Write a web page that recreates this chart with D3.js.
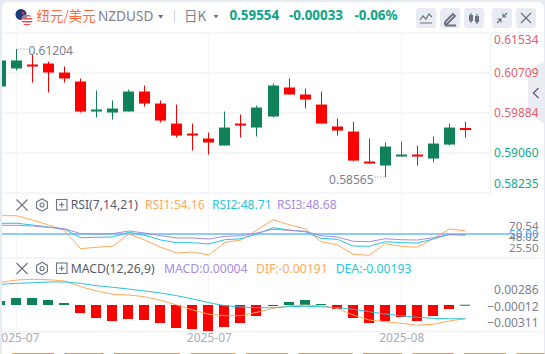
<!DOCTYPE html>
<html>
<head>
<meta charset="utf-8">
<script src="https://cdn.jsdelivr.net/npm/d3@7"></script>
<style>
    body { margin: 0; background: #e6ebf3; }
    svg { display: block; }
    text { font-family: "Noto Sans", "Noto Sans CJK SC", sans-serif; }
</style>
</head>
<body>
<div id="chart"></div>
<script>
// candle values, one entry per day
const opens = [0.60431, 0.60802, 0.60884, 0.60905, 0.60719, 0.60534, 0.59915, 0.59894, 0.59915, 0.60327,
    0.6008, 0.59667, 0.59461, 0.59358, 0.59214, 0.59667, 0.59585, 0.59812, 0.6041, 0.60266,
    0.60059, 0.59606, 0.59502, 0.58884, 0.58801, 0.58987, 0.59028, 0.58946, 0.59234, 0.59575];
const highs = [0.60967, 0.61204, 0.61091, 0.60946, 0.60843, 0.60596, 0.60348, 0.60142, 0.60369, 0.60451,
    0.60142, 0.60059, 0.59667, 0.59482, 0.59915, 0.59853, 0.60039, 0.60492, 0.60596, 0.60389,
    0.60327, 0.59771, 0.59709, 0.59358, 0.59276, 0.59296, 0.59214, 0.59399, 0.59667, 0.59709];
const lows = [0.60431, 0.60761, 0.60513, 0.60307, 0.60513, 0.59894, 0.59791, 0.5975, 0.59915, 0.60018,
    0.59688, 0.59379, 0.59111, 0.59028, 0.59214, 0.59379, 0.59399, 0.59791, 0.60266, 0.59977,
    0.59667, 0.5942, 0.58884, 0.58842, 0.58565, 0.58987, 0.58801, 0.58863, 0.59214, 0.59379];
const closes = [0.60967, 0.60967, 0.60864, 0.60719, 0.60596, 0.59915, 0.59956, 0.59977, 0.60327, 0.6008,
    0.59729, 0.5942, 0.59441, 0.59276, 0.59585, 0.59647, 0.59997, 0.60451, 0.60266, 0.60162,
    0.59667, 0.59523, 0.58904, 0.58863, 0.59193, 0.59028, 0.59007, 0.59255, 0.59585, 0.59554];

const rsi1 = [74.4, 74.4, 68.7, 62.0, 54.4, 30.4, 32.3, 33.6, 50.0, 42.0,
    32.3, 24.7, 26.0, 22.0, 38.9, 42.0, 55.3, 69.1, 62.4, 57.1,
    39.7, 35.7, 22.9, 21.6, 37.1, 33.6, 32.3, 43.7, 56.7, 54.16];
const rsi2 = [64.3, 64.3, 62.0, 59.3, 56.3, 45.1, 45.6, 46.0, 52.3, 48.3,
    42.0, 38.4, 38.4, 36.7, 42.4, 43.7, 50.0, 58.4, 55.3, 53.1,
    44.3, 42.9, 34.0, 33.6, 39.7, 38.4, 38.0, 43.3, 49.6, 48.71];
const rsi3 = [61.6, 61.6, 60.7, 58.9, 57.1, 50.4, 50.0, 50.4, 54.0, 51.3,
    47.7, 44.7, 44.7, 43.3, 46.9, 47.7, 51.3, 56.3, 54.9, 53.6,
    47.7, 46.0, 40.3, 39.7, 43.7, 42.4, 42.0, 45.1, 49.1, 48.68];

const macdHist = [0.00056, 0.00098, 0.00098, 0.0007, 0.00028, -0.00112, -0.00182, -0.00224, -0.00196, -0.0021,
    -0.00252, -0.00322, -0.00336, -0.00364, -0.00308, -0.00252, -0.00154, -0.00014, 0.00042, 0.0007,
    0.00014, -0.00056, -0.00182, -0.00252, -0.00224, -0.00168, -0.00224, -0.00154, -0.00056, 0.00004];
const dif = [0.00318, 0.0035, 0.0036, 0.00354, 0.00336, 0.00256, 0.00196, 0.0015, 0.0014, 0.00116,
    0.00066, 0, -0.0007, -0.0013, -0.0015, -0.0015, -0.00102, -0.00046, -0.0001, 0,
    -0.00014, -0.00046, -0.0014, -0.0021, -0.00234, -0.00256, -0.00284, -0.0027, -0.00224, -0.00191];
const dea = [0.0029, 0.00304, 0.00312, 0.00322, 0.00322, 0.00304, 0.0027, 0.00248, 0.00224, 0.00196,
    0.00168, 0.0013, 0.00084, 0.00032, -0.0001, -0.00028, -0.00038, -0.00038, -0.00024, -0.00018,
    -0.00024, -0.00038, -0.0006, -0.00094, -0.00126, -0.0015, -0.00172, -0.00186, -0.00193, -0.00193];

// tick labels
const priceTicks = [0.61534, 0.60709, 0.59884, 0.5906, 0.58235];
const rsiTicks = [70.54, 48.02, 25.5];
const macdTicks = [0.00286, -0.00012, -0.00311];
const dateTicks = ["2025-07", "2025-07", "2025-08"];
const dateTickIndex = [1, 13, 25];
const footerWidths = [42, 39, 66, 45, 42, 54, 39, 41, 42, 28];

const width = 545, height = 354;
const red = "#ff0000", green = "#0f8259";
const orange = "#ffa95c", cyan = "#2bc4dc", purple = "#a98be4";
const iconColor = "#6b7283", textGrey = "#7d8190";

const svg = d3.select("#chart")
    .append("svg")
    .attr("width", width)
    .attr("height", height);

// white card on the grey page
svg.append("rect")
    .attr("x", 2).attr("y", 2)
    .attr("width", 542).attr("height", 360)
    .attr("rx", 6)
    .attr("fill", "#ffffff");

svg.append("clipPath").attr("id", "plot")
    .append("rect")
    .attr("x", 2).attr("y", 0)
    .attr("width", 540).attr("height", height);

// scales
const x = d3.scalePoint()
    .domain(d3.range(opens.length))
    .range([0.5, 465.37]);
const px = i => Math.floor(x(i)) + 0.5;

const yPrice = d3.scaleLinear().domain([0.58235, 0.61534]).range([193, 33]);
const yRsi = d3.scaleLinear().domain([18, 104.67]).range([258, 193]);
const yMacd = d3.scaleLinear().domain([-0.00364, 0.00658]).range([331, 258]);
// the right hand labels are pushed together by the chart, so they get their own scales
const rsiLabelY = d3.scaleLinear().domain([25.5, 70.54]).range([248, 226]);
const macdLabelY = d3.scaleLinear().domain([-0.00311, 0.00286]).range([322.7, 290]);

// grid
const grid = svg.append("g").attr("fill", "none");
priceTicks.forEach(v => {
    grid.append("line")
        .attr("x1", 2).attr("x2", v === priceTicks[0] ? 543 : 490)
        .attr("y1", yPrice(v)).attr("y2", yPrice(v))
        .attr("stroke", "#f5f6f9").attr("stroke-width", 2);
});
[258, 331.5].forEach(y => {
    grid.append("line")
        .attr("x1", 2).attr("x2", 543)
        .attr("y1", y).attr("y2", y)
        .attr("stroke", "#f1f2f6").attr("stroke-width", 1.5);
});
dateTickIndex.forEach(i => {
    grid.append("line")
        .attr("x1", px(i)).attr("x2", px(i))
        .attr("y1", 33).attr("y2", 331)
        .attr("stroke", "#f5f6f9").attr("stroke-width", 1.5);
});
grid.append("line")
    .attr("x1", 490.5).attr("x2", 490.5)
    .attr("y1", 33).attr("y2", 193)
    .attr("stroke", "#f1f2f6");

// candles
const candles = svg.append("g").attr("clip-path", "url(#plot)")
    .selectAll("g")
    .data(d3.range(opens.length))
    .join("g")
    .attr("fill", i => closes[i] < opens[i] ? red : green)
    .attr("stroke", i => closes[i] < opens[i] ? red : green);

candles.append("line")
    .attr("x1", i => px(i)).attr("x2", i => px(i))
    .attr("y1", i => yPrice(highs[i]))
    .attr("y2", i => yPrice(lows[i]));

candles.append("rect")
    .attr("stroke", "none")
    .attr("x", i => px(i) - 5.5)
    .attr("width", 11)
    .attr("y", i => yPrice(Math.max(opens[i], closes[i])))
    .attr("height", i => Math.max(2, Math.abs(yPrice(opens[i]) - yPrice(closes[i]))));

// high and low markers
function extremeLabel(i, value, side) {
    const y = yPrice(value);
    const x1 = px(i) + (side > 0 ? 1 : -1);
    const x2 = x1 + side * 10;
    svg.append("line")
        .attr("x1", x1).attr("x2", x2)
        .attr("y1", y).attr("y2", y)
        .attr("stroke", textGrey)
        .attr("stroke-dasharray", "1 2");
    svg.append("text")
        .attr("x", x2 + side)
        .attr("y", y + (side > 0 ? 2 : 3))
        .attr("dy", "0.35em")
        .attr("text-anchor", side > 0 ? "start" : "end")
        .attr("font-size", 12)
        .attr("fill", textGrey)
        .text(value.toFixed(5));
}
extremeLabel(1, d3.max(highs), 1);
extremeLabel(24, d3.min(lows), -1);

// side tab behind the price labels
svg.append("path")
    .attr("d", "M528,71L544,61V124L528,112Z")
    .attr("fill", "#ebecf2");
svg.append("path")
    .attr("d", "M538.5,88L533.5,93L538.5,98")
    .attr("fill", "none")
    .attr("stroke", iconColor)
    .attr("stroke-width", 1.6);

// right hand labels
function sideAxis(scale, ticks, format) {
    const g = svg.append("g")
        .attr("transform", "translate(538.5,0)")
        .call(d3.axisLeft(scale).tickValues(ticks).tickSize(0).tickPadding(0).tickFormat(format));
    g.select(".domain").remove();
    g.selectAll("text")
        .attr("font-family", "\"Noto Sans\", sans-serif")
        .attr("fill", textGrey);
    return g;
}

const priceAxis = sideAxis(yPrice, priceTicks, d3.format(".5f"))
    .attr("font-size", 12);
priceAxis.selectAll("text")
    .attr("fill", d => d > 0.595 ? "#e5616f" : "#12a88a");
// top and bottom labels stay inside the pane
priceAxis.selectAll(".tick")
    .attr("transform", d => `translate(0,${Math.min(184, Math.max(40.5, yPrice(d)))})`);

sideAxis(rsiLabelY, rsiTicks, d3.format(".2f")).attr("font-size", 11.5);
sideAxis(macdLabelY, macdTicks, d3.format(".5f")).attr("font-size", 12);

// RSI pane
const rsiLine = d3.line()
    .x((d, i) => x(i))
    .y(d => yRsi(d));

svg.append("line")
    .attr("x1", 2).attr("x2", 510)
    .attr("y1", yRsi(50)).attr("y2", yRsi(50))
    .attr("stroke", "#8fcbf7")
    .attr("stroke-width", 2);

svg.append("text")
    .attr("x", 538.5).attr("y", yRsi(50))
    .attr("dy", "0.35em")
    .attr("text-anchor", "end")
    .attr("font-size", 11.5)
    .attr("fill", "#3fa0f0")
    .text("50.00");

const lines = svg.append("g").attr("clip-path", "url(#plot)").attr("fill", "none");
[[rsi1, orange], [rsi2, cyan], [rsi3, purple]].forEach(([values, color]) => {
    lines.append("path")
        .attr("d", rsiLine(values))
        .attr("stroke", color);
});

// MACD pane
lines.selectAll("rect")
    .data(macdHist)
    .join("rect")
    .attr("stroke", "none")
    .attr("x", (d, i) => px(i) - 5.5)
    .attr("width", 10)
    .attr("y", d => Math.min(yMacd(d), yMacd(0)))
    .attr("height", d => Math.max(1, Math.abs(yMacd(d) - yMacd(0))))
    .attr("fill", d => d < 0 ? red : green);

const macdLine = d3.line()
    .x((d, i) => x(i))
    .y(d => yMacd(d));

[[dif, orange], [dea, cyan]].forEach(([values, color]) => {
    lines.append("path")
        .attr("d", macdLine(values))
        .attr("stroke", color);
});

// date axis
const dateAxis = svg.append("g")
    .attr("clip-path", "url(#plot)")
    .append("g")
    .attr("transform", "translate(0,331)")
    .call(d3.axisBottom(x).tickValues(dateTickIndex).tickSize(0).tickPadding(2)
        .tickFormat((d, i) => dateTicks[i]));
dateAxis.select(".domain").remove();
dateAxis.selectAll("text")
    .attr("font-family", "\"Noto Sans\", sans-serif")
    .attr("font-size", 12)
    .attr("fill", "#a9adbc");

// orange strip at the very bottom
let footerX = 12;
footerWidths.forEach(w => {
    svg.append("rect")
        .attr("x", footerX).attr("y", 353)
        .attr("width", w).attr("height", 1)
        .attr("fill", "#dba544");
    footerX += w + 10.5;
});

// header text
function label(xPos, yPos, str, color, size, weight) {
    return svg.append("text")
        .attr("x", xPos).attr("y", yPos)
        .attr("dy", "0.35em")
        .attr("font-size", size)
        .attr("font-weight", weight || 400)
        .attr("fill", color)
        .text(str);
}

label(36.5, 16, "纽元/美元", "#ff6b3d", 13.5).style("font-family", "\"Noto Sans CJK SC\"");
label(98, 16.5, "NZDUSD", textGrey, 13.6);
label(184, 16, "日K", textGrey, 13.5).style("font-family", "\"Noto Sans CJK SC\"");
label(229.4, 15.5, "0.59554", "#0da585", 13.4, 700);
label(289, 15.5, "-0.00033", "#0da585", 13.4, 700);
label(354.5, 15.5, "-0.06%", "#0da585", 13.4, 700);

[[158, 163.5], [213.5, 218.5]].forEach(([a, b]) => {
    svg.append("path")
        .attr("d", `M${a},15L${b},15L${(a + b) / 2},18.5Z`)
        .attr("fill", iconColor);
});

svg.append("line")
    .attr("x1", 174.5).attr("x2", 174.5)
    .attr("y1", 10).attr("y2", 23)
    .attr("stroke", "#d0d3da");

// flag, two small overlapping circles
svg.append("circle").attr("cx", 21).attr("cy", 14.5).attr("r", 5.5).attr("fill", "#1d3a78");
svg.append("circle").attr("cx", 23).attr("cy", 13).attr("r", 1.5).attr("fill", "#d8343f");
svg.append("clipPath").attr("id", "flagUs")
    .append("circle").attr("cx", 27).attr("cy", 20).attr("r", 5.5);
const flagUs = svg.append("g").attr("clip-path", "url(#flagUs)");
flagUs.append("rect").attr("x", 21).attr("y", 14).attr("width", 12).attr("height", 12).attr("fill", "#ffffff");
[15, 18, 21, 24].forEach(y => {
    flagUs.append("rect").attr("x", 21).attr("y", y).attr("width", 12).attr("height", 1.5).attr("fill", "#e2505a");
});
flagUs.append("rect").attr("x", 21).attr("y", 14).attr("width", 6).attr("height", 4).attr("fill", "#8a8fa8");

// toolbar buttons
const buttonIcons = [
    "M4,12L7,8L10,11L13,6L16,9M4,15H16",
    "M5,14L13,6L15,8L7,16H5ZM5,17.5H16",
    "M7,5V15M13,6V16",
    "M15,5L11,9M11,5.5V9H14.5M5,15L9,11M9,14.5V11H5.5",
    "M5,5L15,15M15,5L5,15"
];
[416, 440, 464, 492, 516].forEach((bx, i) => {
    const b = svg.append("g").attr("transform", `translate(${bx},8)`);
    b.append("rect")
        .attr("width", 20).attr("height", 20)
        .attr("rx", 3.5)
        .attr("fill", "#e9ebf2");
    b.append("path")
        .attr("d", buttonIcons[i])
        .attr("fill", "none")
        .attr("stroke", iconColor)
        .attr("stroke-width", i === 1 ? 1.8 : 1.2);
    if (i === 2) {
        b.append("rect").attr("x", 5).attr("y", 7).attr("width", 4).attr("height", 6).attr("fill", iconColor);
        b.append("rect").attr("x", 11).attr("y", 8).attr("width", 4).attr("height", 6).attr("fill", iconColor);
    }
});

// pane header rows, close, settings and collapse icons then the readings
function paneHeader(yPos, items) {
    const icons = svg.append("g")
        .attr("transform", `translate(0,${yPos})`)
        .attr("fill", "none")
        .attr("stroke", iconColor)
        .attr("stroke-width", 1.1);
    icons.append("path").attr("d", "M16.5,-5.5L27.5,5.5M27.5,-5.5L16.5,5.5");
    icons.append("path").attr("d", "M42,-6.2L47.4,-3.1V3.1L42,6.2L36.6,3.1V-3.1Z");
    icons.append("circle").attr("cx", 42).attr("cy", 0).attr("r", 2);
    icons.append("rect").attr("x", 56.5).attr("y", -5.5).attr("width", 10.5).attr("height", 10.5);
    icons.append("path").attr("d", "M59,-0.2H64.5M61.75,-3V2.5");
    items.forEach(([xPos, str, color]) => label(xPos, yPos, str, color, 12.2));
}

paneHeader(205, [
    [70.7, "RSI(7,14,21)", "#555b6a"],
    [145, "RSI1:54.16", orange],
    [212, "RSI2:48.71", cyan],
    [277, "RSI3:48.68", purple]
]);
paneHeader(268.5, [
    [70.7, "MACD(12,26,9)", "#555b6a"],
    [164, "MACD:0.00004", purple],
    [256, "DIF:-0.00191", orange],
    [335.7, "DEA:-0.00193", cyan]
]);
</script>
</body>
</html>
